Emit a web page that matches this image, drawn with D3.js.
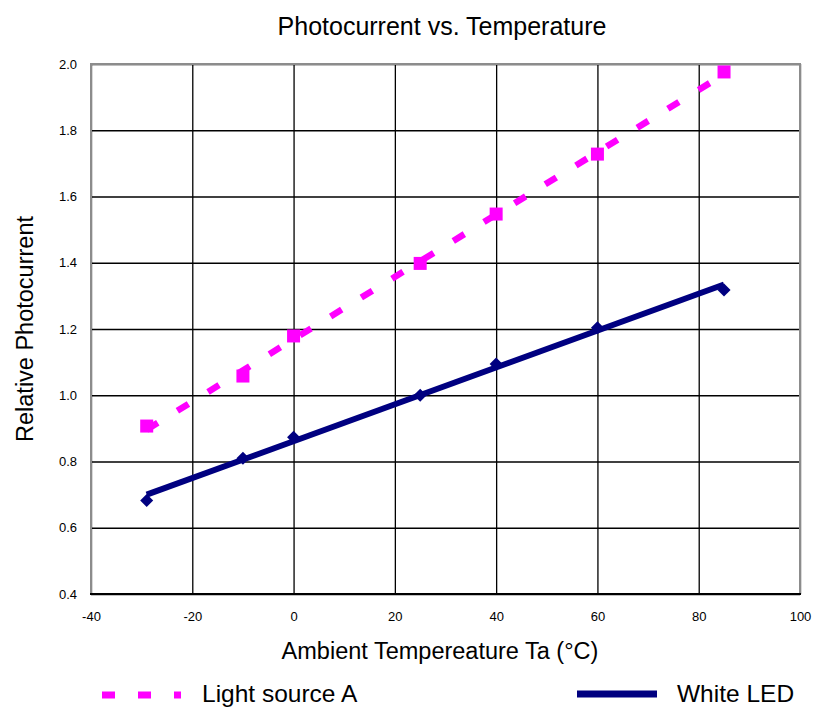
<!DOCTYPE html>
<html>
<head>
<meta charset="utf-8">
<script src="https://cdn.jsdelivr.net/npm/d3@7"></script>
<style>
    body { margin: 0; background: #fff; }
    svg { font-family: "Liberation Sans", Arial, sans-serif; }
    .tick text { font-size: 13px; fill: #000; }
</style>
</head>
<body>
<div id="chart"></div>
<script>
// values
const temperatures = [-29, -10, 0, 25, 40, 60, 85];
const lightSourceA = [0.907, 1.058, 1.179, 1.398, 1.547, 1.728, 1.976];
const whiteLed = [0.682, 0.81, 0.873, 1.0, 1.094, 1.204, 1.318];
const xTicks = [-40, -20, 0, 20, 40, 60, 80, 100];
const yTicks = [0.4, 0.6, 0.8, 1.0, 1.2, 1.4, 1.6, 1.8, 2.0];
const seriesNames = ["Light source A", "White LED"];

const totalWidth = 815;
const totalHeight = 708;
const margin = { top: 64, right: 15, bottom: 114, left: 91 };
const width = totalWidth - margin.left - margin.right;
const height = totalHeight - margin.top - margin.bottom;

const pink = "#ff00ff";
const navy = "#000080";

const svg = d3.select("#chart")
    .append("svg")
    .attr("width", totalWidth)
    .attr("height", totalHeight);

const g = svg.append("g")
    .attr("transform", `translate(${margin.left},${margin.top})`);

const x = d3.scaleLinear().domain([-40, 100]).range([0, width]);
const y = d3.scaleLinear().domain([0.4, 2.0]).range([height, 0]);

// grid + tick labels
const xAxis = d3.axisBottom(x)
    .tickValues(xTicks)
    .tickFormat(d => String(d))
    .tickSizeInner(-height)
    .tickSizeOuter(0)
    .tickPadding(18);
g.append("g")
    .attr("transform", `translate(0,${height})`)
    .call(xAxis)
    .call(a => a.select(".domain").remove())
    .call(a => a.selectAll("line").attr("stroke", "#000").attr("stroke-width", 1.3));

const yAxis = d3.axisLeft(y)
    .tickValues(yTicks)
    .tickFormat(d3.format(".1f"))
    .tickSizeInner(-width)
    .tickSizeOuter(0)
    .tickPadding(14);
g.append("g")
    .call(yAxis)
    .call(a => a.select(".domain").remove())
    .call(a => a.selectAll("line").attr("stroke", "#000").attr("stroke-width", 1.3));

// plot frame: grey left/top/right, black bottom
g.append("path")
    .attr("d", `M0,${height}V0H${width}V${height}`)
    .attr("fill", "none")
    .attr("stroke", "#8c8c8c")
    .attr("stroke-width", 2);
g.append("line")
    .attr("x1", -1).attr("x2", width + 1)
    .attr("y1", height).attr("y2", height)
    .attr("stroke", "#000")
    .attr("stroke-width", 2);

// least squares trend line through a series
function trend(xs, ys) {
    const mx = d3.mean(xs), my = d3.mean(ys);
    const sxy = d3.sum(xs, (v, i) => (v - mx) * (ys[i] - my));
    const sxx = d3.sum(xs, v => (v - mx) * (v - mx));
    const slope = sxy / sxx;
    return d3.extent(xs).map(v => [v, my + slope * (v - mx)]);
}

const line = d3.line().x(d => x(d[0])).y(d => y(d[1]));

// markers
g.selectAll(".sq")
    .data(temperatures)
    .join("rect")
    .attr("class", "sq")
    .attr("x", d => x(d) - 6.5)
    .attr("y", (d, i) => y(lightSourceA[i]) - 6.5)
    .attr("width", 13)
    .attr("height", 13)
    .attr("fill", pink);

g.selectAll(".dia")
    .data(temperatures)
    .join("rect")
    .attr("class", "dia")
    .attr("x", -4.6)
    .attr("y", -4.6)
    .attr("width", 9.2)
    .attr("height", 9.2)
    .attr("transform", (d, i) => `translate(${x(d)},${y(whiteLed[i])}) rotate(45)`)
    .attr("fill", navy);

// trend lines
g.append("path")
    .attr("d", line(trend(temperatures, lightSourceA)))
    .attr("fill", "none")
    .attr("stroke", pink)
    .attr("stroke-width", 6.5)
    .attr("stroke-dasharray", "13,23");

g.append("path")
    .attr("d", line(trend(temperatures, whiteLed)))
    .attr("fill", "none")
    .attr("stroke", navy)
    .attr("stroke-width", 6);

// titles
svg.append("text")
    .attr("x", 442)
    .attr("y", 35)
    .attr("text-anchor", "middle")
    .attr("font-size", 25)
    .text("Photocurrent vs. Temperature");

svg.append("text")
    .attr("x", 440)
    .attr("y", 659)
    .attr("text-anchor", "middle")
    .attr("font-size", 23.5)
    .text("Ambient Tempereature Ta (°C)");

svg.append("text")
    .attr("transform", `translate(33,${margin.top + height / 2}) rotate(-90)`)
    .attr("text-anchor", "middle")
    .attr("font-size", 23.5)
    .text("Relative Photocurrent");

// legend
const legend = svg.append("g");
legend.append("line")
    .attr("x1", 102).attr("x2", 181)
    .attr("y1", 695).attr("y2", 695)
    .attr("stroke", pink)
    .attr("stroke-width", 7)
    .attr("stroke-dasharray", "13,23");
legend.append("text")
    .attr("x", 202).attr("y", 702)
    .attr("font-size", 24.5)
    .text(seriesNames[0]);
legend.append("line")
    .attr("x1", 577).attr("x2", 657)
    .attr("y1", 694).attr("y2", 694)
    .attr("stroke", navy)
    .attr("stroke-width", 7);
legend.append("text")
    .attr("x", 677).attr("y", 702)
    .attr("font-size", 24.5)
    .text(seriesNames[1]);
</script>
</body>
</html>
